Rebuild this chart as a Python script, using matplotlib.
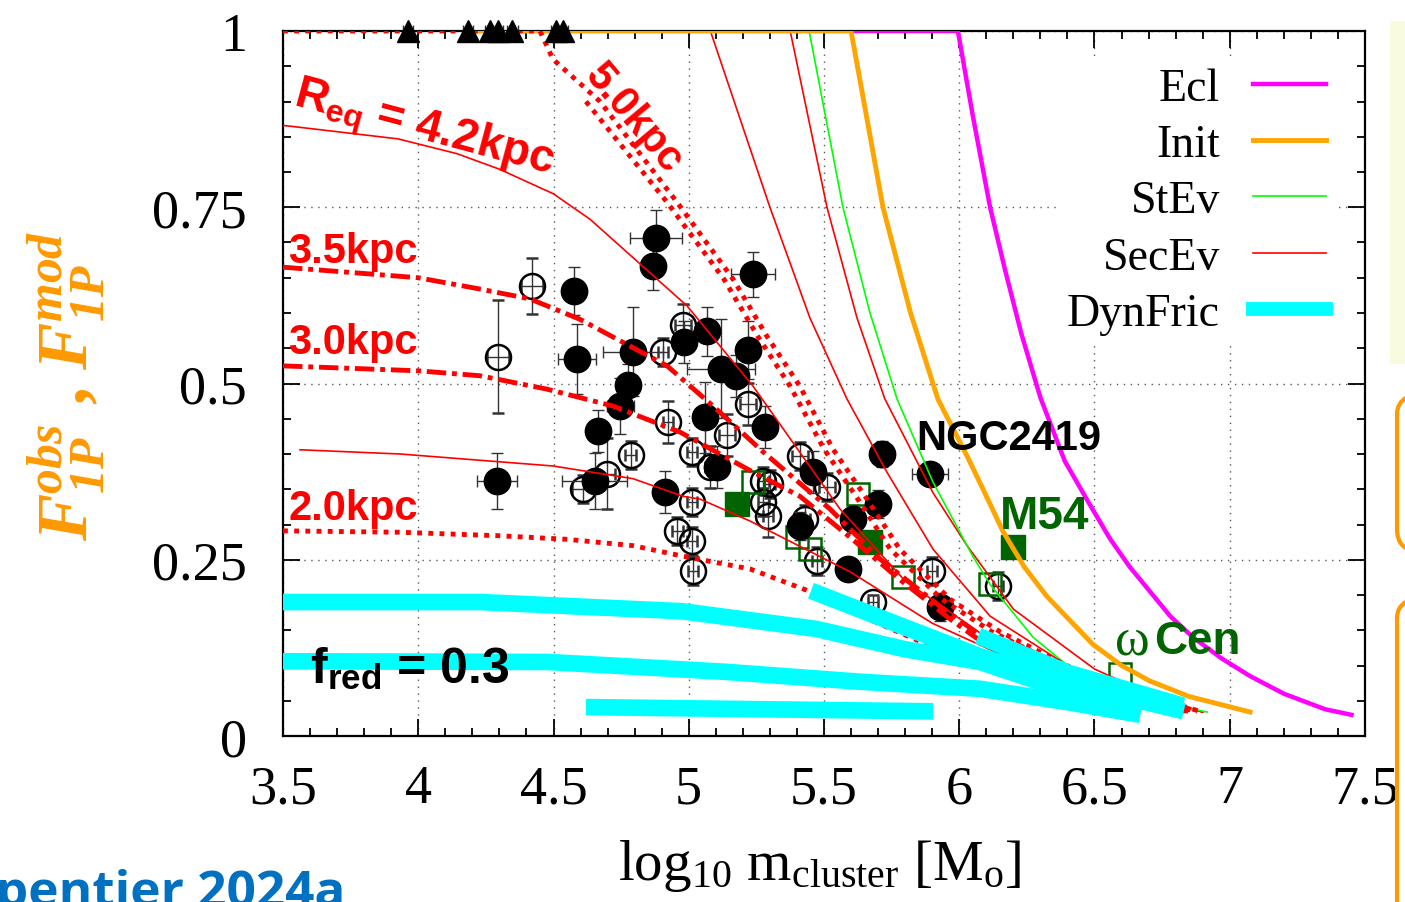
import numpy as np
import matplotlib
matplotlib.use("Agg")
import matplotlib.pyplot as plt
from matplotlib.lines import Line2D
from matplotlib.patches import FancyBboxPatch, Rectangle

plt.rcParams['font.family'] = ['Liberation Serif', 'DejaVu Serif']
plt.rcParams['mathtext.fontset'] = 'custom'
plt.rcParams['mathtext.rm'] = 'Liberation Serif'
plt.rcParams['mathtext.it'] = 'Liberation Serif:italic'
plt.rcParams['mathtext.bf'] = 'Liberation Serif:italic:bold'
plt.rcParams['mathtext.sf'] = 'Liberation Sans:bold'

# ---- model curves (log10 mass, F1P) ----
ecl_x = [5.6, 5.995, 6.05, 6.114, 6.17, 6.23, 6.30, 6.39, 6.48, 6.557, 6.63, 6.705, 6.78, 6.864, 6.97,
         7.075, 7.2, 7.352, 7.45]
ecl_y = [1.0, 1.0, 0.88, 0.75, 0.66, 0.57, 0.48, 0.39, 0.33, 0.28, 0.24, 0.205, 0.17, 0.14, 0.11,
         0.085, 0.06, 0.038, 0.03]
init_x = [4.2, 5.60, 5.718, 5.82, 5.921, 6.029, 6.088, 6.162, 6.24, 6.324, 6.494, 6.6, 6.705, 6.85, 7.075]
init_y = [1.0, 1.0, 0.75, 0.6, 0.478, 0.397, 0.35, 0.29, 0.24, 0.198, 0.13, 0.1, 0.078, 0.056, 0.034]
stev_x = [4.2, 5.445, 5.57, 5.67, 5.77, 5.903, 6.05, 6.114, 6.273, 6.4, 6.557, 6.7, 6.916]
stev_y = [1.0, 1.0, 0.75, 0.6, 0.478, 0.36, 0.255, 0.215, 0.14, 0.1, 0.07, 0.05, 0.034]
secA_x = [4.2, 5.375, 5.511, 5.622, 5.725, 5.903, 6.029, 6.2, 6.5, 6.7, 6.9]
secA_y = [1.0, 1.0, 0.75, 0.593, 0.478, 0.345, 0.27, 0.18, 0.095, 0.06, 0.034]
secB_x = [4.2, 5.08, 5.30, 5.448, 5.585, 5.733, 5.903, 6.114, 6.4, 6.65, 6.9]
secB_y = [1.0, 1.0, 0.75, 0.593, 0.478, 0.374, 0.265, 0.17, 0.1, 0.06, 0.034]
secC_x = [3.5, 3.526, 3.925, 4.143, 4.30, 4.5, 4.635, 4.994, 5.238, 5.559, 5.8, 6.1, 6.5, 6.9]
secC_y = [0.866, 0.865, 0.847, 0.826, 0.804, 0.769, 0.733, 0.61, 0.496, 0.322, 0.22, 0.14, 0.07, 0.034]
secD_x = [3.563, 3.933, 4.498, 4.794, 4.979, 5.042, 5.226, 5.596, 5.9, 6.3, 6.85]
secD_y = [0.406, 0.40, 0.383, 0.365, 0.340, 0.336, 0.305, 0.233, 0.16, 0.09, 0.035]

dd35_x = [3.5, 4.0, 4.228, 4.413, 4.598, 4.783, 4.92, 5.09, 5.275, 5.522, 5.707, 5.929, 6.15, 6.52, 6.835]
dd35_y = [0.665, 0.65, 0.634, 0.62, 0.591, 0.553, 0.525, 0.468, 0.403, 0.322, 0.251, 0.184, 0.123, 0.067, 0.035]
dd30_x = [3.5, 4.0, 4.228, 4.476, 4.72, 4.968, 5.215, 5.411, 5.596, 5.78, 5.966, 6.15, 6.52, 6.82]
dd30_y = [0.525, 0.518, 0.511, 0.492, 0.468, 0.431, 0.379, 0.34, 0.282, 0.222, 0.166, 0.115, 0.062, 0.035]
dot50_x = [3.5, 4.45, 4.498, 4.672, 4.957, 5.164, 5.289, 5.411, 5.533, 5.659, 5.78, 5.966, 6.15, 6.5, 6.89]
dot50_y = [1.0, 1.0, 0.96, 0.9, 0.757, 0.648, 0.567, 0.496, 0.407, 0.336, 0.265, 0.194, 0.148, 0.08, 0.035]
dot50b_x = [4.62, 4.92, 5.13, 5.255, 5.375, 5.50, 5.625, 5.745, 5.935, 6.12, 6.48, 6.88]
dot50b_y = [0.9, 0.757, 0.648, 0.567, 0.496, 0.407, 0.336, 0.265, 0.194, 0.148, 0.08, 0.035]
dot20_x = [3.5, 3.933, 4.302, 4.55, 4.794, 4.979, 5.226, 5.448, 5.7, 6.0, 6.4, 6.85]
dot20_y = [0.291, 0.289, 0.284, 0.279, 0.27, 0.255, 0.237, 0.205, 0.16, 0.11, 0.065, 0.035]

dyn1_x = [3.5, 4.23, 4.975, 5.47, 5.80, 6.077, 6.35, 6.63]
dyn1_y = [0.19, 0.19, 0.177, 0.152, 0.123, 0.105, 0.07, 0.033]
dyn2_x = [3.5, 4.48, 5.138, 5.633, 6.077, 6.4, 6.67]
dyn2_y = [0.106, 0.105, 0.091, 0.077, 0.067, 0.048, 0.03]
dyn3_x = [4.62, 5.903]
dyn3_y = [0.041, 0.035]
dyn4_x = [5.452, 6.077, 6.45, 6.83]
dyn4_y = [0.206, 0.113, 0.07, 0.035]
dyn5_x = [6.07, 6.4, 6.827]
dyn5_y = [0.142, 0.09, 0.043]

# ---- observed clusters ----
full_x = [4.879, 4.868, 4.576, 4.587, 5.238, 5.067, 4.982, 4.794, 5.219, 5.119, 5.175, 4.775, 4.746, 4.665,
          5.06, 5.282, 5.104, 5.459, 4.291, 4.653, 4.912, 5.714, 5.892, 5.70, 5.607, 5.411, 5.589, 5.929]
full_y = [0.706, 0.667, 0.631, 0.535, 0.655, 0.574, 0.559, 0.545, 0.548, 0.521, 0.511, 0.498, 0.468, 0.433,
          0.452, 0.438, 0.382, 0.374, 0.362, 0.362, 0.346, 0.40, 0.372, 0.329, 0.308, 0.298, 0.237, 0.183]
full_xe = [0.095, 0.03, 0.02, 0.07, 0.08, 0.04, 0.02, 0.11, 0.02, 0.125, 0.04, 0.02, 0.05, 0.02,
           0.02, 0.02, 0.02, 0.03, 0.075, 0.12, 0.02, 0.02, 0.065, 0.02, 0.02, 0.02, 0.02, 0.03]
full_ye = [0.04, 0.035, 0.034, 0.05, 0.032, 0.035, 0.03, 0.063, 0.041, 0.07, 0.03, 0.03, 0.04, 0.03,
           0.05, 0.03, 0.03, 0.03, 0.04, 0.04, 0.03, 0.018, 0.01, 0.02, 0.02, 0.02, 0.01, 0.02]

open_x = [4.42, 4.295, 4.979, 4.905, 5.219, 5.141, 4.923, 4.786, 5.012, 5.079, 5.411, 5.511, 4.698, 4.609,
          5.012, 4.957, 5.012, 5.016, 5.275, 5.30, 5.275, 5.293, 5.43, 5.474, 5.681, 5.899, 6.143]
open_y = [0.638, 0.538, 0.583, 0.545, 0.471, 0.427, 0.445, 0.399, 0.403, 0.382, 0.397, 0.353, 0.372, 0.350,
          0.332, 0.291, 0.277, 0.234, 0.362, 0.357, 0.332, 0.312, 0.308, 0.248, 0.19, 0.234, 0.213]
open_xe = [0.04, 0.04, 0.03, 0.02, 0.03, 0.03, 0.02, 0.02, 0.02, 0.02, 0.03, 0.03, 0.03, 0.04,
           0.02, 0.02, 0.02, 0.02, 0.02, 0.02, 0.02, 0.02, 0.02, 0.02, 0.02, 0.02, 0.02]
open_ye = [0.04, 0.08, 0.03, 0.02, 0.03, 0.03, 0.03, 0.02, 0.02, 0.03, 0.02, 0.02, 0.05, 0.02,
           0.02, 0.02, 0.02, 0.02, 0.02, 0.02, 0.02, 0.03, 0.02, 0.02, 0.01, 0.02, 0.02]

gfull_x = [5.178, 5.67, 6.199]
gfull_y = [0.329, 0.275, 0.268]
gopen_x = [5.238, 5.40, 5.448, 5.626, 5.792, 6.114, 6.594]
gopen_y = [0.36, 0.282, 0.265, 0.343, 0.226, 0.216, 0.088]

tri_x = [3.962, 4.184, 4.265, 4.295, 4.347, 4.509, 4.535]
tri_y = [1.0, 1.0, 1.0, 1.0, 1.0, 1.0, 1.0]

RED = '#ff0000'
CYAN = '#00ffff'
DKGREEN = '#006400'

fig = plt.figure(figsize=(14.05, 9.03), dpi=100)
ax = fig.add_axes([283 / 1405, 1 - 737 / 903, 1082 / 1405, 705 / 903])

# observed points
ax.errorbar(open_x, open_y, xerr=open_xe, yerr=open_ye, fmt='o', ms=18, mfc='none', mec='black', mew=1.8,
            ecolor='#333333', elinewidth=1, capsize=4.5, zorder=2)
ax.errorbar(full_x, full_y, xerr=full_xe, yerr=full_ye, fmt='o', ms=19, mfc='black', mec='black',
            ecolor='#333333', elinewidth=1, capsize=4.5, zorder=3)
ax.plot(gopen_x, gopen_y, 's', ms=16, mfc='none', mec=DKGREEN, mew=1.8, zorder=3)
ax.plot(gfull_x, gfull_y, 's', ms=17, mfc=DKGREEN, mec=DKGREEN, zorder=3)
ax.errorbar(tri_x, tri_y, xerr=0.02, fmt='^', ms=16, color='black', ecolor='#333333', elinewidth=1,
            capsize=4, zorder=6, clip_on=False)

# model curves
ax.plot(ecl_x, ecl_y, color='#ff00ff', lw=3.2, zorder=4)
ax.plot(secC_x, secC_y, color=RED, lw=1.2, zorder=4)
ax.plot(secD_x, secD_y, color=RED, lw=1.2, zorder=4)
ax.plot(secB_x, secB_y, color=RED, lw=1.2, zorder=4)
ax.plot(secA_x, secA_y, color=RED, lw=1.2, zorder=4)
ax.plot(stev_x, stev_y, color='#00ff00', lw=1.2, zorder=4)
ax.plot(init_x, init_y, color='#ffa500', lw=3.5, zorder=4)
ax.plot(dd35_x, dd35_y, color=RED, lw=3.5, ls=(0, (4, 1.2, 1, 1.2)), zorder=4)
ax.plot(dd30_x, dd30_y, color=RED, lw=3.5, ls=(0, (4, 1.2, 1, 1.2)), zorder=4)
ax.plot(dot50_x, dot50_y, color=RED, lw=3.5, ls=(0, (1, 1.3)), zorder=4)
ax.plot(dot50b_x, dot50b_y, color=RED, lw=3.5, ls=(0, (1, 1.3)), zorder=4)
ax.plot(dot20_x, dot20_y, color=RED, lw=3.5, ls=(0, (1, 1.3)), zorder=4)
for dx, dy in [(dyn1_x, dyn1_y), (dyn2_x, dyn2_y), (dyn3_x, dyn3_y), (dyn4_x, dyn4_y), (dyn5_x, dyn5_y)]:
    ax.plot(dx, dy, color=CYAN, lw=12, solid_capstyle='butt', zorder=5)

ax.set_xlim(3.5, 7.5)
ax.set_ylim(0, 1)
ax.set_xticks([3.5, 4, 4.5, 5, 5.5, 6, 6.5, 7, 7.5])
ax.set_xticklabels(['3.5', '4', '4.5', '5', '5.5', '6', '6.5', '7', '7.5'])
ax.set_yticks([0, 0.25, 0.5, 0.75, 1])
ax.set_yticklabels(['0', '0.25', '0.5', '0.75', '1'])
ax.set_xticks(np.arange(3.5, 7.51, 0.1), minor=True)
ax.set_yticks(np.arange(0, 1.001, 0.05), minor=True)
ax.tick_params(which='both', direction='in', top=True, right=True, width=1.3)
ax.tick_params(which='major', length=12, labelsize=39)
ax.tick_params(which='minor', length=6)
ax.tick_params(axis='x', pad=20)
ax.tick_params(axis='y', pad=26)
for s in ax.spines.values():
    s.set_linewidth(1.6)
ax.grid(True, which='major', color='0.35', ls=(0, (1, 4)), lw=1)

# legend
handles = [Line2D([], [], color='#ff00ff', lw=3.2), Line2D([], [], color='#ffa500', lw=3.5),
           Line2D([], [], color='#00ff00', lw=1.2), Line2D([], [], color=RED, lw=1.2),
           Line2D([], [], color=CYAN, lw=10)]
leg = ax.legend(handles, ['Ecl', 'Init', 'StEv', 'SecEv', 'DynFric'], loc='upper right',
                bbox_to_anchor=(0.996, 0.997), markerfirst=False, fontsize=33, handlelength=1.6,
                handletextpad=0.72, labelspacing=0.3, borderpad=0.25, frameon=True, fancybox=False)
leg.get_frame().set_edgecolor('none')
leg.get_frame().set_facecolor('white')
leg.get_frame().set_alpha(1)
leg.set_zorder(7)

# annotations
bold = dict(family=['Liberation Sans', 'DejaVu Sans'], weight='bold')
ax.text(3.52, 0.875, r'R$_{\mathsf{eq}}$ = 4.2kpc', color=RED, fontsize=33, rotation=-15,
        ha='left', va='bottom', rotation_mode='anchor', zorder=6, **bold)
ax.text(4.70, 0.965, '5.0kpc', color=RED, fontsize=30, rotation=-50, ha='left', va='top',
        rotation_mode='anchor', zorder=6, **bold)
ax.text(3.52, 0.66, '3.5kpc', color=RED, fontsize=30, ha='left', va='bottom', zorder=6, **bold)
ax.text(3.52, 0.53, '3.0kpc', color=RED, fontsize=30, ha='left', va='bottom', zorder=6, **bold)
ax.text(3.52, 0.295, '2.0kpc', color=RED, fontsize=30, ha='left', va='bottom', zorder=6, **bold)
ax.text(3.6, 0.095, r'f$_{\mathsf{red}}$ = 0.3', color='black', fontsize=36, ha='left', va='center',
        zorder=6, **bold)
ax.text(5.84, 0.423, 'NGC2419', color='black', fontsize=30, ha='left', va='center', zorder=6, **bold)
ax.text(6.15, 0.312, 'M54', color=DKGREEN, fontsize=33, ha='left', va='center', zorder=6, **bold)
ax.text(6.64, 0.135, 'ω', color=DKGREEN, fontsize=38, ha='center', va='center', zorder=6,
        family=['Liberation Serif', 'DejaVu Serif'])
ax.text(6.72, 0.135, 'Cen', color=DKGREEN, fontsize=33, ha='left', va='center', zorder=6, **bold)

# axis labels
fig.text(820 / 1405, 1 - 866 / 903, r'log$_{10}$ m$_{\rm cluster}$ [M$_{\rm o}$]', fontsize=41,
         ha='center', va='center')
fig.text(66 / 1405, 1 - 386 / 903, r'$\mathbf{F^{obs}_{1P}}$ , $\mathbf{F^{mod}_{1P}}$', fontsize=51,
         rotation=90, ha='center', va='center', color='#ff9900', weight='bold')

# cropped slide decorations
fig.text(345 / 1405, -4 / 903, 'Charpentier 2024a', fontsize=37, color='#0070c0', ha='right',
         va='baseline', family=['Open Sans', 'DejaVu Sans'], weight='bold')
fig.patches.append(Rectangle((13.90, 5.38), 0.5, 3.43, transform=fig.dpi_scale_trans,
                             facecolor='#f9fbdf', edgecolor='none'))
fig.patches.append(FancyBboxPatch((13.97, 3.51), 0.6, 1.59, boxstyle='round,pad=0,rounding_size=0.22',
                                  transform=fig.dpi_scale_trans, facecolor='none', edgecolor='#ff9900', lw=3))
fig.patches.append(FancyBboxPatch((13.97, -0.6), 0.6, 3.66, boxstyle='round,pad=0,rounding_size=0.22',
                                  transform=fig.dpi_scale_trans, facecolor='none', edgecolor='#ff9900', lw=3))

plt.savefig('out.png', dpi=100)
